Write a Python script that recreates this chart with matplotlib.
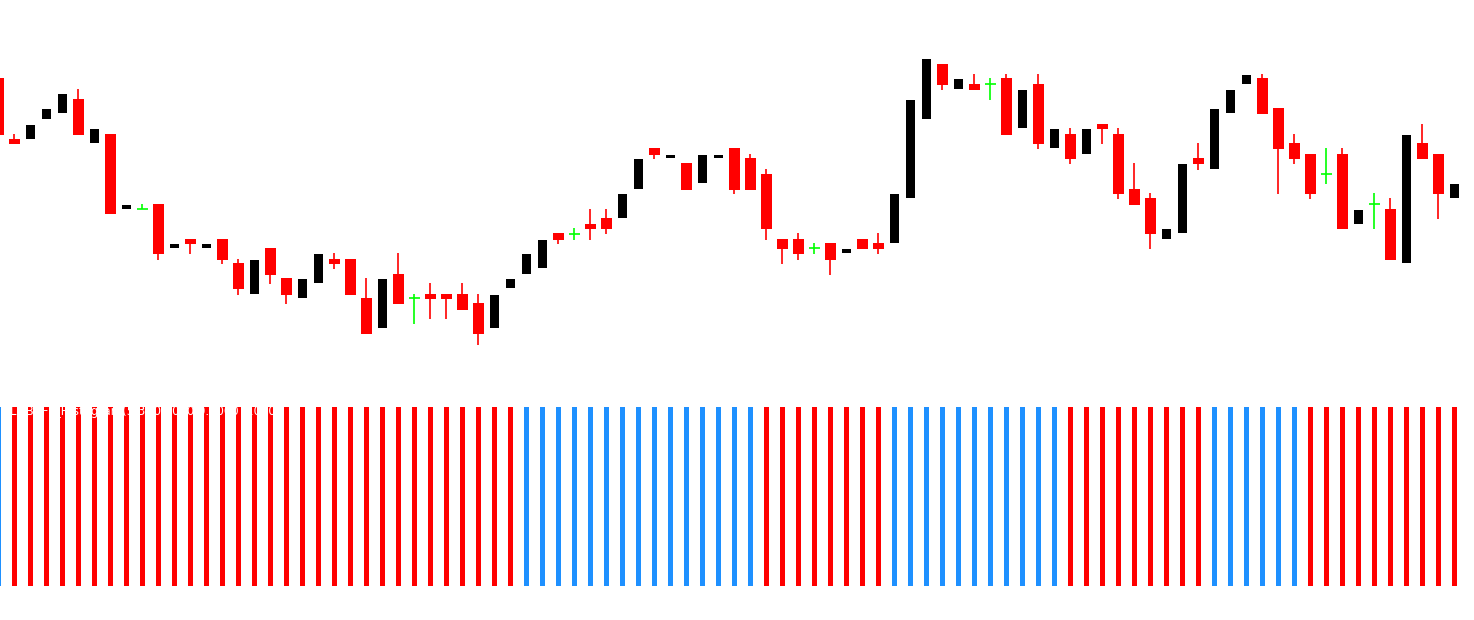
import matplotlib
matplotlib.use("Agg")
import matplotlib.pyplot as plt
import numpy as np

# candle data (bar -1 is the clipped one on the left edge)
opens = [1.1282, 1.1221, 1.1221, 1.1241, 1.1247, 1.1261, 1.1217, 1.1226, 1.1151, 1.1151,
         1.1156, 1.1112, 1.1121, 1.1112, 1.1121, 1.1097, 1.1066, 1.1112, 1.1082, 1.1062,
         1.1077, 1.1101, 1.1101, 1.1062, 1.1032, 1.1086, 1.1062, 1.1066, 1.1066, 1.1066,
         1.1057, 1.1032, 1.1072, 1.1086, 1.1092, 1.1127, 1.1126, 1.1136, 1.1142, 1.1142,
         1.1171, 1.1212, 1.1202, 1.1197, 1.1177, 1.1202, 1.1212, 1.1202, 1.1186, 1.1121,
         1.1121, 1.1112, 1.1117, 1.1107, 1.1121, 1.1117, 1.1117, 1.1162, 1.1241, 1.1296,
         1.1271, 1.1276, 1.1276, 1.1282, 1.1232, 1.1276, 1.1212, 1.1226, 1.1206, 1.1236,
         1.1226, 1.1171, 1.1162, 1.1121, 1.1127, 1.1202, 1.1191, 1.1247, 1.1276, 1.1282,
         1.1252, 1.1217, 1.1206, 1.1186, 1.1206, 1.1136, 1.1156, 1.1151, 1.1097, 1.1217,
         1.1206, 1.1162]
highs = [1.1282, 1.1226, 1.1235, 1.1251, 1.1266, 1.1271, 1.1231, 1.1226, 1.1155, 1.1156,
         1.1156, 1.1116, 1.1121, 1.1116, 1.1121, 1.1101, 1.1100, 1.1112, 1.1082, 1.1081,
         1.1106, 1.1107, 1.1101, 1.1082, 1.1081, 1.1107, 1.1066, 1.1077, 1.1066, 1.1077,
         1.1066, 1.1065, 1.1081, 1.1106, 1.1120, 1.1127, 1.1132, 1.1151, 1.1151, 1.1166,
         1.1201, 1.1212, 1.1205, 1.1197, 1.1205, 1.1205, 1.1212, 1.1206, 1.1191, 1.1121,
         1.1127, 1.1117, 1.1117, 1.1111, 1.1121, 1.1127, 1.1166, 1.1260, 1.1301, 1.1296,
         1.1281, 1.1286, 1.1282, 1.1286, 1.1270, 1.1286, 1.1231, 1.1232, 1.1231, 1.1236,
         1.1232, 1.1197, 1.1167, 1.1131, 1.1196, 1.1217, 1.1251, 1.1270, 1.1285, 1.1286,
         1.1252, 1.1226, 1.1206, 1.1212, 1.1212, 1.1150, 1.1167, 1.1162, 1.1225, 1.1236,
         1.1206, 1.1176]
lows = [1.1225, 1.1216, 1.1221, 1.1241, 1.1247, 1.1225, 1.1217, 1.1146, 1.1151, 1.1151,
        1.1100, 1.1112, 1.1106, 1.1112, 1.1096, 1.1065, 1.1066, 1.1076, 1.1056, 1.1062,
        1.1077, 1.1091, 1.1065, 1.1026, 1.1032, 1.1056, 1.1036, 1.1041, 1.1041, 1.1050,
        1.1015, 1.1032, 1.1072, 1.1086, 1.1092, 1.1116, 1.1120, 1.1120, 1.1126, 1.1142,
        1.1171, 1.1201, 1.1202, 1.1170, 1.1177, 1.1202, 1.1166, 1.1170, 1.1120, 1.1096,
        1.1100, 1.1106, 1.1085, 1.1107, 1.1111, 1.1106, 1.1117, 1.1162, 1.1241, 1.1270,
        1.1271, 1.1270, 1.1260, 1.1225, 1.1232, 1.1211, 1.1212, 1.1196, 1.1206, 1.1216,
        1.1161, 1.1155, 1.1111, 1.1121, 1.1127, 1.1190, 1.1191, 1.1247, 1.1276, 1.1246,
        1.1166, 1.1196, 1.1161, 1.1176, 1.1131, 1.1136, 1.1131, 1.1100, 1.1097, 1.1201,
        1.1141, 1.1162]
closes = [1.1225, 1.1216, 1.1235, 1.1251, 1.1266, 1.1225, 1.1231, 1.1146, 1.1155, 1.1151,
          1.1106, 1.1116, 1.1116, 1.1116, 1.1100, 1.1071, 1.1100, 1.1085, 1.1065, 1.1081,
          1.1106, 1.1096, 1.1065, 1.1026, 1.1081, 1.1056, 1.1062, 1.1061, 1.1061, 1.1050,
          1.1026, 1.1065, 1.1081, 1.1106, 1.1120, 1.1120, 1.1126, 1.1131, 1.1131, 1.1166,
          1.1201, 1.1205, 1.1205, 1.1170, 1.1205, 1.1205, 1.1170, 1.1170, 1.1131, 1.1111,
          1.1106, 1.1112, 1.1100, 1.1111, 1.1111, 1.1111, 1.1166, 1.1260, 1.1301, 1.1275,
          1.1281, 1.1270, 1.1276, 1.1225, 1.1270, 1.1216, 1.1231, 1.1201, 1.1231, 1.1231,
          1.1166, 1.1155, 1.1126, 1.1131, 1.1196, 1.1196, 1.1251, 1.1270, 1.1285, 1.1246,
          1.1211, 1.1201, 1.1166, 1.1186, 1.1131, 1.1150, 1.1156, 1.1100, 1.1225, 1.1201,
          1.1166, 1.1176]

# histogram state per bar: 1 = blue, 0 = red
hist_state = [1,
              0, 0, 0, 0, 0, 0, 0, 0, 0, 0, 0, 0, 0, 0, 0, 0,
              0, 0, 0, 0, 0, 0, 0, 0, 0, 0, 0, 0, 0, 0, 0, 0,
              1, 1, 1, 1, 1, 1, 1, 1, 1, 1, 1, 1, 1, 1, 1,
              0, 0, 0, 0, 0, 0, 0, 0,
              1, 1, 1, 1, 1, 1, 1, 1, 1, 1, 1,
              0, 0, 0, 0, 0, 0, 0, 0, 0,
              1, 1, 1, 1, 1, 1,
              0, 0, 0, 0, 0, 0, 0, 0, 0, 0]

label = "LDBCFL_Histogram(5,3) 0.0000 0.0000 1.0000"

W, H = 1474, 620
x = np.arange(len(opens)) - 1
o = np.array(opens)
c = np.array(closes)
hi = np.array(highs)
lo = np.array(lows)

fig = plt.figure(figsize=(W / 100, H / 100), dpi=100)
fig.patch.set_facecolor("white")

# price window
ax = fig.add_axes([0, 1 - 390 / H, 1, 390 / H])
ax.set_xlim(-14.5 / 16, (W - 14.5) / 16)
ax.set_ylim(1.0970, 1.1360)
ax.axis("off")

up = c > o
down = c < o
doji = c == o

# wicks
ax.vlines(x[down], lo[down], hi[down], color="#ff0000", lw=1.2)
ax.vlines(x[doji], lo[doji], hi[doji], color="#00ff00", lw=1.2)
ax.vlines(x[up], lo[up], hi[up], color="black", lw=1.2)

# bodies
ax.bar(x[down], (o - c)[down], bottom=c[down], width=11 / 16, color="#ff0000", linewidth=0)
ax.bar(x[up], (c - o)[up], bottom=o[up], width=9 / 16, color="black", linewidth=0)
ax.hlines(o[doji], x[doji] - 5.5 / 16, x[doji] + 5.5 / 16, color="#00ff00", lw=1.2)

# indicator window
ax2 = fig.add_axes([0, 1 - 586 / H, 1, (586 - 407) / H])
ax2.set_xlim(-14.5 / 16, (W - 14.5) / 16)
ax2.set_ylim(0, 1)
ax2.axis("off")
cols = ["#1e90ff" if s == 1 else "#ff0000" for s in hist_state]
ax2.bar(x, np.ones(len(x)), width=5 / 16, color=cols, linewidth=0)

fig.text(10 / W, 1 - 405 / H, label, color="white", fontsize=8.5, va="top", ha="left")

fig.savefig("out.png", dpi=100)
